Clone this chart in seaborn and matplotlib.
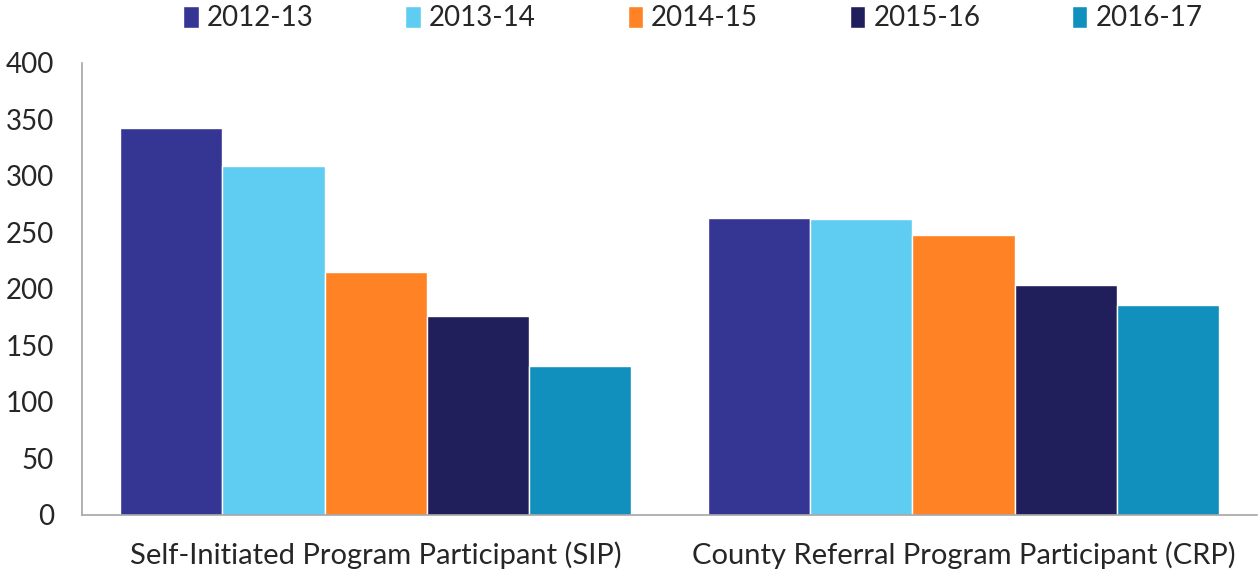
import seaborn as sns
import matplotlib.pyplot as plt
import pandas as pd

sns.set_style("white")
plt.rcParams['font.family'] = ['Lato', 'DejaVu Sans']

categories = ["Self-Initiated Program Participant (SIP)", "County Referral Program Participant (CRP)"]
years = ["2012-13", "2013-14", "2014-15", "2015-16", "2016-17"]
sip = [342, 309, 215, 176, 132]
crp = [263, 262, 248, 203, 186]
colors = ["#353594", "#5FCCF2", "#FF8324", "#201F5C", "#1190BE"]

rows = []
for i, y in enumerate(years):
    rows.append((categories[0], y, sip[i]))
    rows.append((categories[1], y, crp[i]))
df = pd.DataFrame(rows, columns=["group", "year", "count"])

fig = plt.figure(figsize=(12.6, 5.76), dpi=100)
ax = fig.add_axes([0.065, 0.106, 0.933, 0.785])
sns.barplot(data=df, x="group", y="count", hue="year", order=categories,
            hue_order=years, palette=colors, width=0.87, ax=ax,
            edgecolor="white", linewidth=1, saturation=1)

ax.set_ylim(0, 400)
ax.set_xlim(-0.5, 1.5)
ax.set_yticks(range(0, 401, 50))
ax.set_xlabel("")
ax.set_ylabel("")
ax.tick_params(axis="y", labelsize=20, length=0, pad=20)
ax.tick_params(axis="x", labelsize=21, length=0, pad=19)
for s in ["top", "right"]:
    ax.spines[s].set_visible(False)
for s in ["left", "bottom"]:
    ax.spines[s].set_color("#A6A6A6")
    ax.spines[s].set_linewidth(1.2)

handles, labels = ax.get_legend_handles_labels()
ax.legend_.remove()
fig.legend(handles, labels, loc="center", bbox_to_anchor=(0.55, 0.968), ncol=5,
           frameon=False, fontsize=20, handlelength=0.55, handleheight=0.85,
           handletextpad=0.3, columnspacing=3.3)

plt.savefig("out.png", dpi=100)
